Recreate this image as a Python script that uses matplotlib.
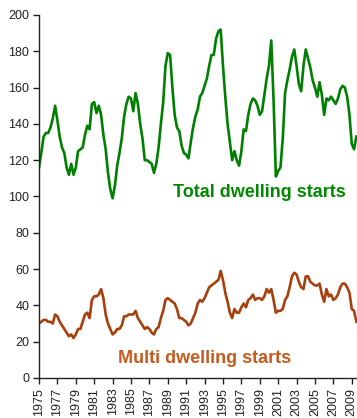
import matplotlib
matplotlib.use("Agg")
import matplotlib.pyplot as plt
import numpy as np

plt.rcParams['font.family'] = ['Liberation Sans', 'DejaVu Sans']

start_year = 1975
# quarterly values, 1975 Q1 onward
total_starts = [
    116, 124, 133, 135, 135, 138, 143, 150, 142, 133, 127, 124,
    116, 112, 118, 112, 116, 125, 126, 127, 134, 139, 137, 151,
    152, 146, 150, 145, 134, 126, 113, 104, 99, 106, 117, 124,
    132, 144, 151, 155, 154, 147, 157, 151, 140, 132, 120, 120,
    119, 118, 113, 118, 127, 140, 152, 172, 179, 178, 160, 145,
    138, 136, 128, 124, 123, 121, 130, 138, 144, 148, 155, 157,
    161, 165, 172, 178, 178, 187, 191, 192, 172, 155, 140, 130,
    120, 125, 120, 117, 125, 137, 136, 145, 151, 154, 153, 150,
    145, 147, 156, 165, 172, 186, 153, 111, 114, 116, 132, 157,
    164, 170, 177, 181, 172, 162, 158, 172, 181, 176, 171, 164,
    160, 155, 163, 156, 145, 154, 153, 155, 153, 151, 154, 159,
    161, 160, 155, 145, 129, 126, 133,
]
multi_starts = [
    30, 31, 32, 32, 31, 31, 30, 35, 34, 31, 29, 27,
    25, 23, 24, 22, 24, 27, 27, 31, 35, 36, 33, 43,
    45, 45, 46, 49, 44, 35, 30, 27, 24, 25, 27, 27,
    29, 34, 34, 35, 35, 35, 37, 33, 31, 29, 27, 28,
    27, 25, 24, 27, 28, 33, 37, 43, 44, 43, 42, 41,
    38, 33, 33, 32, 31, 29, 30, 33, 36, 41, 43, 42,
    44, 47, 50, 51, 52, 53, 54, 59, 54, 47, 42, 36,
    33, 38, 36, 36, 39, 41, 39, 43, 44, 46, 43, 44,
    44, 43, 45, 49, 47, 49, 43, 36, 37, 37, 38, 43,
    45, 50, 56, 58, 57, 53, 50, 49, 56, 56, 53, 52,
    51, 51, 52, 46, 42, 49, 45, 46, 43, 44, 46, 50,
    52, 52, 50, 47, 38, 37, 31,
]
tick_years = list(range(1975, 2010, 2))
y_ticks = list(range(0, 201, 20))
label_total = "Total dwelling starts"
label_multi = "Multi dwelling starts"

x = start_year + np.arange(len(total_starts)) / 4.0

fig = plt.figure(figsize=(3.57, 4.18), dpi=100)
ax = fig.add_axes([39/357, 1-378/418, 1-39/357, (378-15)/418])

green = '#008000'
brown = '#A8400E'
ax.plot(x, total_starts, color=green, lw=1.9)
ax.plot(x, multi_starts, color=brown, lw=1.9)

ax.set_xlim(1975, 2009.57)
ax.set_ylim(0, 200)
ax.set_yticks(y_ticks)
ax.set_xticks(tick_years)
ax.set_xticklabels([str(t) for t in tick_years], rotation=90)
ax.tick_params(axis='both', labelsize=9, colors='#222222', length=4, width=1,
               direction='out')
ax.tick_params(axis='y', pad=3)
ax.tick_params(axis='x', pad=3)
for s in ['top', 'right']:
    ax.spines[s].set_visible(False)
for s in ['left', 'bottom']:
    ax.spines[s].set_color('#222222')
    ax.spines[s].set_linewidth(1)

ax.text(1989.6, 99.5, label_total, color='#008A00', fontsize=13,
        fontweight='bold', ha='left', va='baseline')
ax.text(1983.6, 8.5, label_multi, color='#C85A1E', fontsize=13,
        fontweight='bold', ha='left', va='baseline')

fig.savefig('out.png', dpi=100)
